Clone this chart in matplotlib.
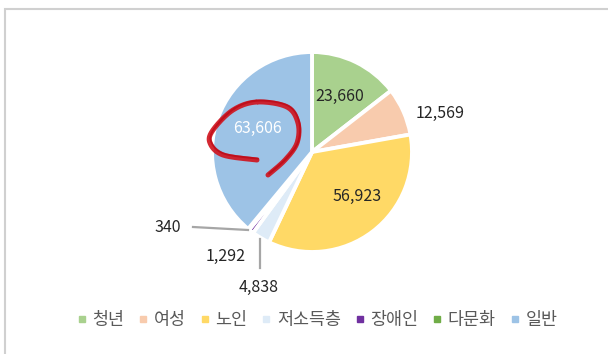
import numpy as np
import matplotlib
matplotlib.use("Agg")
import matplotlib.pyplot as plt
from matplotlib.lines import Line2D
from matplotlib.patches import Rectangle

plt.rcParams['font.family'] = ['Noto Sans CJK KR', 'DejaVu Sans']

# 대상별 인원
categories = ['청년', '여성', '노인', '저소득층', '장애인', '다문화', '일반']
values = [23660, 12569, 56923, 4838, 1292, 340, 63606]
colors = ['#A9D18E', '#F8CBAD', '#FFD966', '#DEEBF7', '#7030A0', '#70AD47', '#9DC3E6']

W, H, DPI = 608, 354, 100
fig = plt.figure(figsize=(W / DPI, H / DPI), dpi=DPI)
ax = fig.add_axes([0, 0, 1, 1])

# outer chart frame
fig.patches.append(Rectangle((4.5 / W, -0.2), 1.2, 1.2 - 8.5 / H,
                             transform=fig.transFigure, fill=False,
                             edgecolor='#D0D0D0', linewidth=1.5, zorder=0))

wedges, _ = ax.pie(values, colors=colors, startangle=90, counterclock=False,
                   radius=1.0, center=(0, 0), frame=True,
                   wedgeprops=dict(edgecolor='white', linewidth=2.8))
ax.set_xlim(-3.12, 2.96)
ax.set_ylim(-2.02, 1.52)
ax.set_aspect('auto')
ax.axis('off')

fmt = [f'{v:,}' for v in values]
label_pos = {
    0: (0.28, 0.56),
    1: (1.28, 0.39),
    2: (0.45, -0.44),
    3: (-0.53, -1.35),
    4: (-0.86, -1.04),
    5: (-1.44, -0.76),
    6: (-0.54, 0.24),
}
text_col = '#262626'
for i, (x, y) in label_pos.items():
    ax.text(x, y, fmt[i], ha='center', va='center', fontsize=11.5,
            color='white' if i == 6 else text_col, zorder=5)

# leader lines for the small slices
ax.plot([-1.19, -0.64], [-0.75, -0.78], color='#A6A6A6', lw=1.6, zorder=4)
ax.plot([-0.52, -0.52], [-0.87, -1.16], color='#A6A6A6', lw=1.6, zorder=4)

# red hand-drawn loop around the largest value
pts = np.array([
    (-0.44, -0.23), (-0.27, -0.08), (-0.15, 0.09), (-0.14, 0.29),
    (-0.25, 0.45), (-0.55, 0.50), (-0.79, 0.42), (-0.99, 0.22),
    (-1.02, 0.09), (-0.89, -0.03), (-0.55, -0.08),
])


def catmull_rom(p, n=20):
    p = np.vstack([p[0], p, p[-1]])
    out = []
    for k in range(1, len(p) - 2):
        p0, p1, p2, p3 = p[k - 1], p[k], p[k + 1], p[k + 2]
        t = np.linspace(0, 1, n)[:, None]
        seg = 0.5 * ((2 * p1) + (-p0 + p2) * t + (2 * p0 - 5 * p1 + 4 * p2 - p3) * t ** 2
                     + (-p0 + 3 * p1 - 3 * p2 + p3) * t ** 3)
        out.append(seg)
    return np.vstack(out)


curve = catmull_rom(pts)
ax.plot(curve[:, 0], curve[:, 1], color='#D0121C', lw=3.6, alpha=0.9,
        solid_capstyle='round', zorder=6)
ax.plot(curve[:, 0] + 0.012, curve[:, 1] + 0.014, color='#B8000E', lw=1.4,
        alpha=0.6, solid_capstyle='round', zorder=6)

handles = [Line2D([], [], marker='s', linestyle='none', markersize=4.5,
                  markerfacecolor=c, markeredgecolor=c) for c in colors]
fig.legend(handles, categories, loc='center', bbox_to_anchor=(0.522, 0.095),
           ncol=7, frameon=False, fontsize=12.5, handlelength=0.5,
           handletextpad=0.35, columnspacing=0.85, labelcolor='#595959')

fig.savefig('out.png', dpi=DPI)
